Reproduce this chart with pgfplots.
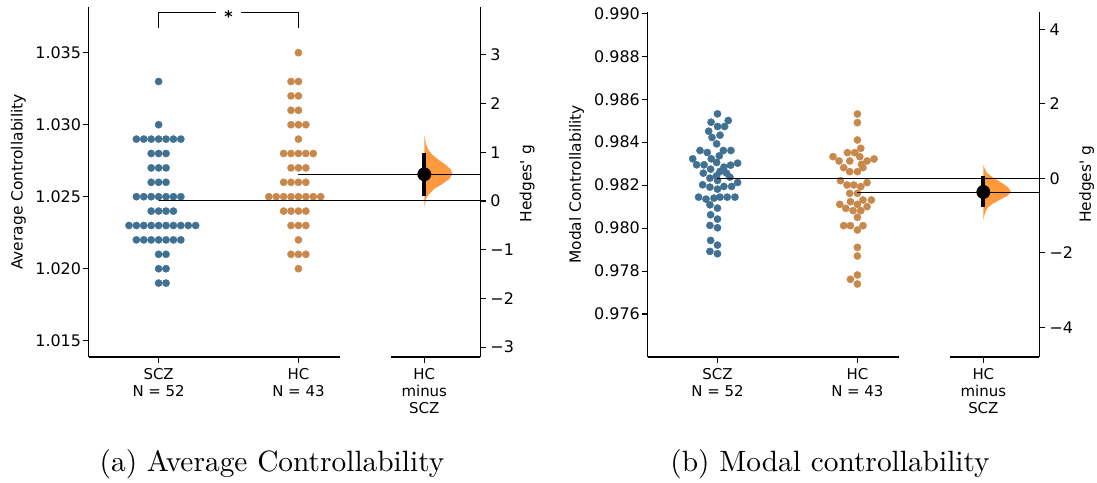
\documentclass[border=0pt]{standalone}
\usepackage{fontspec}
\usepackage{pgfplots}
\pgfplotsset{compat=1.18}
\newfontfamily\djv{DejaVu Sans}
\newfontfamily\lmten[Extension=.otf]{lmroman10-regular}
\definecolor{sczc}{RGB}{64,112,146}
\definecolor{hcc}{RGB}{200,135,75}
\definecolor{viol}{RGB}{255,153,62}
\newcommand{\tf}{\djv\fontsize{15}{17.4}\selectfont}
\newcommand{\tfy}{\djv\fontsize{16}{18}\selectfont}
\pgfplotsset{
  ga/.style={scale only axis, clip=false, xmin=-0.5, xmax=2.3,
    tick align=outside, major tick length=6bp,
    every tick/.style={black, line width=1.1bp},
    axis line style={black, line width=1.1bp},
    tick label style={font=\tf},
  },
  raw/.style={ga, axis x line*=bottom, axis y line*=left,
    x axis line style={draw=none},
    xtick={0,1,1.9},
    xticklabels={{SCZ\\N = 52},{HC\\N = 43},{HC\\minus\\SCZ}},
    xticklabel style={align=center, anchor=north, inner sep=0pt, yshift=-5bp},
    yticklabel style={anchor=east, inner sep=0pt, xshift=-1.5bp, font=\tfy},
  },
  delta/.style={ga, axis x line=none, axis y line*=right, xtick=\empty,
    yticklabel style={anchor=west, inner sep=0pt, xshift=4bp, font=\tfy},
  },
  dots/.style={only marks, mark=*, mark size=3.65bp, color=#1, mark options={solid, draw=#1, fill=#1, line width=0.3bp}},
  mline/.style={black, line width=1bp},
}
\begin{document}
\begin{tikzpicture}
\path[use as bounding box] (0,0) rectangle (1097bp,483bp);
% ---------------- panel (a) raw ----------------
\begin{axis}[raw, at={(88.7bp,126bp)}, anchor=south west, width=391.5bp, height=349.7bp,
  ymin=1.013868, ymax=1.038153,
  ytick={1.015,1.020,1.025,1.030,1.035}, yticklabels={1.015,1.020,1.025,1.030,1.035}]
\addplot[dots=sczc] coordinates {
(0,1.033) (0,1.030)
(-0.159,1.029)(-0.106,1.029)(-0.053,1.029)(0,1.029)(0.053,1.029)(0.106,1.029)(0.159,1.029)
(-0.053,1.028)(0,1.028)(0.053,1.028)
(-0.053,1.027)(0,1.027)(0.053,1.027)
(-0.053,1.026)(0,1.026)(0.053,1.026)
(-0.159,1.025)(-0.106,1.025)(-0.053,1.025)(0,1.025)(0.053,1.025)(0.106,1.025)(0.159,1.025)
(-0.053,1.024)(0,1.024)(0.053,1.024)(0.106,1.024)
(-0.212,1.023)(-0.159,1.023)(-0.106,1.023)(-0.053,1.023)(0,1.023)(0.053,1.023)(0.106,1.023)(0.159,1.023)(0.212,1.023)(0.265,1.023)
(-0.159,1.022)(-0.106,1.022)(-0.053,1.022)(0,1.022)(0.053,1.022)(0.106,1.022)(0.159,1.022)
(0,1.021)(0.053,1.021)
(0,1.020)(0.053,1.020)
(0,1.019)(0.053,1.019)
};
\addplot[dots=hcc] coordinates {
(1,1.035)
(0.947,1.033)(1,1.033)
(0.947,1.032)(1,1.032)
(0.947,1.031)(1,1.031)
(0.947,1.030)(1,1.030)(1.053,1.030)
(1,1.029)
(0.894,1.028)(0.947,1.028)(1,1.028)(1.053,1.028)(1.106,1.028)
(0.947,1.027)(1,1.027)(1.053,1.027)
(0.894,1.026)(0.947,1.026)(1,1.026)(1.053,1.026)
(0.788,1.025)(0.841,1.025)(0.894,1.025)(0.947,1.025)(1,1.025)(1.053,1.025)(1.106,1.025)(1.159,1.025)
(0.894,1.024)(0.947,1.024)(1,1.024)(1.053,1.024)
(0.947,1.023)(1,1.023)(1.053,1.023)
(1,1.022)
(0.947,1.021)(1,1.021)(1.053,1.021)
(1,1.020)
};
\addplot[black, line width=1.4bp] coordinates {(0,1.036736)(0,1.037778)(0.412,1.037778)};
\addplot[black, line width=1.4bp] coordinates {(0.588,1.037778)(1,1.037778)(1,1.036736)};
\node[font=\djv\bfseries\fontsize{16}{18}\selectfont, yshift=-3.5bp] at (axis cs:0.5,1.037778) {*};
\draw[line width=1.1bp] (rel axis cs:0,0) -- (rel axis cs:0.642857,0);
\draw[line width=1.1bp] (rel axis cs:0.77321,0) -- (rel axis cs:1,0);
\end{axis}
% ---------------- panel (a) effect size ----------------
\begin{axis}[delta, at={(88.7bp,126bp)}, anchor=south west, width=391.5bp, height=349.7bp,
  ymin=-3.203, ymax=3.977,
  ytick={-3,-2,-1,0,1,2,3}, yticklabels={−3,−2,−1,0,1,2,3}]
\addplot[fill=viol, draw=none] coordinates {
(1.9,1.35)(1.907,1.25)(1.914,1.15)(1.929,1.05)(1.957,0.95)(2.0,0.85)(2.05,0.75)(2.09,0.65)(2.1,0.55)
(2.079,0.45)(2.029,0.35)(1.972,0.25)(1.936,0.15)(1.914,0.05)(1.906,-0.05)(1.9,-0.13)};
\addplot[mline] coordinates {(0,0)(2.3,0)};
\addplot[mline] coordinates {(1,0.548)(2.3,0.548)};
\addplot[black, line width=4bp] coordinates {(1.9,0.10)(1.9,0.98)};
\addplot[only marks, mark=*, mark size=6.7bp, black] coordinates {(1.9,0.548)};
\end{axis}
% ---------------- panel (b) raw ----------------
\begin{axis}[raw, at={(647.5bp,126bp)}, anchor=south west, width=391.8bp, height=345.3bp,
  ymin=0.973999, ymax=0.990074,
  ytick={0.976,0.978,0.980,0.982,0.984,0.986,0.988,0.990},
  yticklabels={0.976,0.978,0.980,0.982,0.984,0.986,0.988,0.990}]
\addplot[dots=sczc] coordinates {
(0,0.985318)(-0.046,0.984930)(0.077,0.985008)(0.001,0.984729)(0.051,0.984729)
(-0.063,0.984512)(-0.039,0.984217)(0.018,0.984326)(-0.006,0.983922)
(-0.125,0.983612)(-0.073,0.983519)(0.042,0.983612)(0.096,0.983612)
(-0.177,0.983225)(-0.044,0.983225)(0.013,0.983364)
(-0.149,0.982946)(-0.096,0.982946)(-0.006,0.983054)(0.046,0.982837)(0.094,0.982930)(0.144,0.983023)
(-0.101,0.982558)(-0.049,0.982744)(0.018,0.982636)
(-0.054,0.982326)(-0.006,0.982434)(0.065,0.982558)(0.089,0.982372)
(-0.106,0.982016)(-0.054,0.981907)(0,0.982217)(0.144,0.982124)
(0,0.981814)(0.046,0.981938)(0.101,0.981938)
(-0.135,0.981442)(-0.082,0.981349)(-0.025,0.981395)(0.018,0.981442)(0.070,0.981442)(0.125,0.981442)
(-0.054,0.981085)(0,0.980930)
(-0.049,0.980620)(0,0.980419)
(-0.054,0.980124)(0,0.980016)
(-0.049,0.979426)(0,0.979209)
(-0.054,0.978915)(0,0.978806)
};
\addplot[dots=hcc] coordinates {
(1,0.985312)(1,0.984908)(1,0.984101)(1.024,0.983713)
(0.929,0.983512)(0.981,0.983512)
(0.826,0.983325)(0.869,0.983124)(0.945,0.983124)(1.017,0.983325)(1.069,0.983124)(1.119,0.983217)
(1.029,0.982968)(0.902,0.982813)(0.945,0.982627)(1,0.982627)(1.040,0.982813)
(0.879,0.982208)(0.926,0.982006)(0.974,0.982006)(1.024,0.981929)(1.069,0.982115)
(0.945,0.981618)(1,0.981618)
(0.874,0.981106)(0.917,0.980920)(0.950,0.981230)(1,0.981106)(1.040,0.981308)(1.100,0.981308)(1.069,0.980998)
(0.969,0.980811)(1.024,0.980811)
(1,0.980501)
(0.902,0.980113)(0.950,0.980113)(1.040,0.980113)(1,0.979911)
(1,0.979104)(1,0.978701)
(1,0.977817)(0.950,0.977615)(1,0.977397)
};
\draw[line width=1.1bp] (rel axis cs:0,0) -- (rel axis cs:0.642857,0);
\draw[line width=1.1bp] (rel axis cs:0.77321,0) -- (rel axis cs:1,0);
\end{axis}
% ---------------- panel (b) effect size ----------------
\begin{axis}[delta, at={(647.5bp,126bp)}, anchor=south west, width=391.8bp, height=345.3bp,
  ymin=-4.797, ymax=4.472,
  ytick={-4,-2,0,2,4}, yticklabels={−4,−2,0,2,4}]
\addplot[fill=viol, draw=none] coordinates {
(1.9,0.36)(1.911,0.25)(1.925,0.15)(1.957,0.05)(2.0,-0.05)(2.043,-0.15)(2.079,-0.25)(2.098,-0.37)
(2.072,-0.47)(2.022,-0.57)(1.972,-0.67)(1.936,-0.77)(1.918,-0.87)(1.909,-0.97)(1.9,-1.12)};
\addplot[mline] coordinates {(0,0)(2.3,0)};
\addplot[mline] coordinates {(1,-0.368)(2.3,-0.368)};
\addplot[black, line width=4bp] coordinates {(1.9,0.07)(1.9,-0.78)};
\addplot[only marks, mark=*, mark size=6.7bp, black] coordinates {(1.9,-0.368)};
\end{axis}
% ---------------- labels ----------------
\begin{scope}[every node/.style={rotate=90, font=\djv\fontsize{15.5}{17}\selectfont}]
\node at (18.3bp,301bp) {Average Controllability};
\node at (527bp,299.3bp) {Hedges\textquotesingle{} g};
\node at (576.7bp,298.7bp) {Modal Controllability};
\node at (1086.7bp,298.7bp) {Hedges\textquotesingle{} g};
\end{scope}
\node[anchor=base, font=\lmten\fontsize{29.5}{35}\selectfont] at (272bp,12bp) {(a) Average Controllability};
\node[anchor=base, font=\lmten\fontsize{29.5}{35}\selectfont] at (830bp,12bp) {(b) Modal controllability};
\end{tikzpicture}
\end{document}
